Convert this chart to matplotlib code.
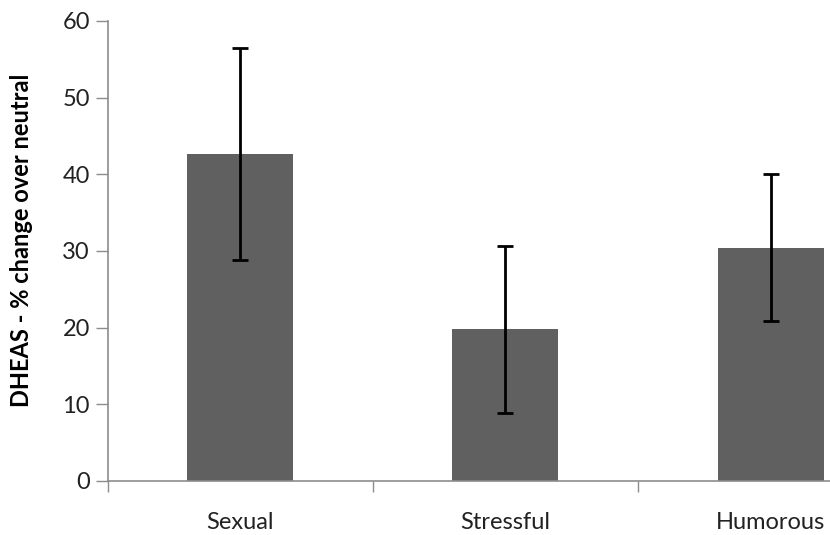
import numpy as np
import matplotlib.pyplot as plt

# values
conditions = ['Sexual', 'Stressful', 'Humorous']
dheas_change = [42.6, 19.8, 30.4]
dheas_err = [13.8, 10.9, 9.6]
y_ticks = [0, 10, 20, 30, 40, 50, 60]

plt.rcParams['font.family'] = ['Lato', 'DejaVu Sans']

fig = plt.figure(figsize=(8.3, 5.35), dpi=100)
# the original picture is cropped on the right, so the axes run past the edge
ax = fig.add_axes([0.130, 0.101, 0.958, 0.860])

x = np.arange(len(conditions))
ax.bar(x, dheas_change, width=0.4, color='#606060', zorder=2)
ax.errorbar(x, dheas_change, yerr=dheas_err, fmt='none', ecolor='black',
            elinewidth=2, capsize=6, capthick=2, zorder=3)

axis_grey = '#8c8c8c'
ax.set_xlim(-0.5, len(conditions) - 0.5)
ax.set_ylim(0, 60)
ax.set_yticks(y_ticks)
ax.set_yticklabels([str(t) for t in y_ticks], fontsize=17, color='#222222')

# category names sit between the tick marks, which mark the boundaries
ax.set_xticks(np.arange(len(conditions) + 1) - 0.5)
ax.set_xticklabels([])
ax.set_xticks(x, minor=True)
ax.set_xticklabels(conditions, minor=True, fontsize=17, color='#222222')
ax.tick_params(axis='x', which='minor', length=0, pad=22)
ax.tick_params(axis='x', which='major', length=8, width=1, color=axis_grey)
ax.tick_params(axis='y', length=9, width=1, color=axis_grey, pad=4)

for side in ['top', 'right']:
    ax.spines[side].set_visible(False)
for side in ['left', 'bottom']:
    ax.spines[side].set_color(axis_grey)
    ax.spines[side].set_linewidth(1.2)

ax.set_ylabel('DHEAS - % change over neutral', fontsize=17,
              fontweight='bold')
ax.yaxis.set_label_coords(-0.094, 0.522)

fig.savefig('out.png', dpi=100)
